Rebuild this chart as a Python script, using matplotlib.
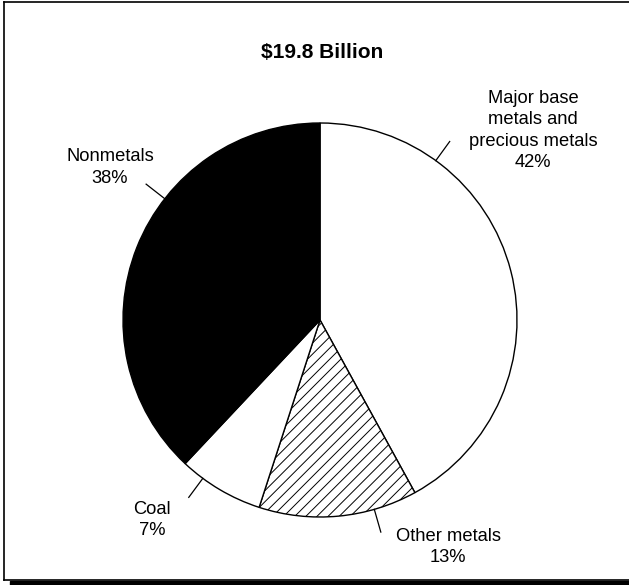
import numpy as np
import matplotlib
matplotlib.use('Agg')
import matplotlib.pyplot as plt
from matplotlib.lines import Line2D
from matplotlib.patches import Rectangle

plt.rcParams['font.family'] = ['Liberation Sans', 'DejaVu Sans']
plt.rcParams['hatch.linewidth'] = 0.7

# данные
labels = ['Major base\nmetals and\nprecious metals\n42%', 'Other metals\n13%', 'Coal\n7%', 'Nonmetals\n38%']
shares = [42, 13, 7, 38]
colors = ['white', 'white', 'white', 'black']
hatches = ['', '///', '', '']
title = '$19.8 Billion'

# положение подписей и выносок (в координатах пирога)
label_xy = [(1.081, 0.962), (0.65, -1.152), (-0.853, -1.015), (-1.066, 0.774)]
leader_ang = [54, -74, -126.5, 142]

W, H = 629, 585
fig = plt.figure(figsize=(W / 100, H / 100), dpi=100)

# рамка с тенью снизу
fig.add_artist(Line2D([4 / W, 4 / W], [1 - 2 / H, 1 - 580 / H], color='black', lw=1.2))
fig.add_artist(Line2D([4 / W, 1.0], [1 - 2 / H, 1 - 2 / H], color='black', lw=1.2))
fig.add_artist(Line2D([4 / W, 1.0], [1 - 580 / H, 1 - 580 / H], color='black', lw=1.2))
fig.add_artist(Rectangle((10 / W, 0), 1, 4 / H, transform=fig.transFigure, color='black'))

cx, cy, r = 320, 320, 197
ax = fig.add_axes([(cx - r) / W, 1 - (cy + r) / H, 2 * r / W, 2 * r / H])
wedges, _ = ax.pie(shares, colors=colors, startangle=90, counterclock=False,
                   wedgeprops=dict(edgecolor='black', linewidth=1.0))
for w, h in zip(wedges, hatches):
    w.set_hatch(h)
ax.set_xlim(-1, 1)
ax.set_ylim(-1, 1)
ax.set_aspect('equal')
ax.axis('off')

for lab, (x, y), a in zip(labels, label_xy, leader_ang):
    t = np.deg2rad(a)
    ax.plot([np.cos(t), 1.12 * np.cos(t)], [np.sin(t), 1.12 * np.sin(t)],
            color='black', lw=0.9, clip_on=False)
    ax.text(x, y, lab, ha='center', va='center', fontsize=13.2, linespacing=1.32)

fig.text(322 / W, 1 - 53 / H, title, ha='center', va='center', fontsize=15, fontweight='bold')

plt.savefig('out.png', dpi=100)
